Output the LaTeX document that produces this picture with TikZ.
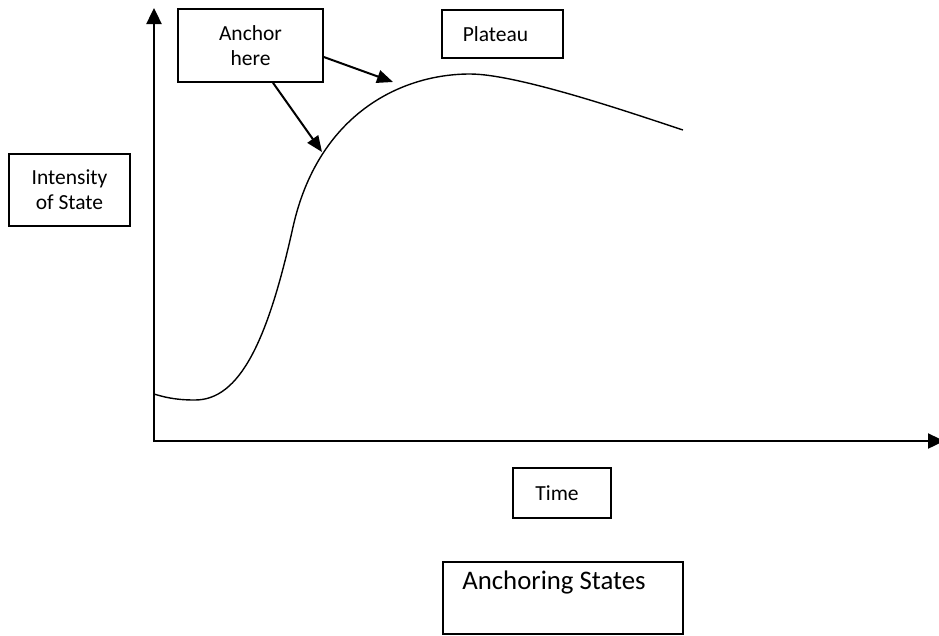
\documentclass[tikz,border=0pt]{standalone}
\usepackage{fontspec}
\setmainfont{Carlito}
\usetikzlibrary{arrows.meta,calc}
\begin{document}
\begin{tikzpicture}[x=1pt,y=-1pt,
  box/.style={draw,line width=1.6pt,inner sep=0pt,align=center,font=\fontsize{21.5}{25}\selectfont},
  axis/.style={line width=2.4pt,-{Triangle[length=16pt,width=15pt]}},
  pointer/.style={line width=2pt,-{Triangle[length=16pt,width=13pt]}},
  curve/.style={line width=1.4pt}]
\useasboundingbox (0,0) rectangle (939,635);
% axes
\coordinate (origin) at (154,441);
\coordinate (ytip) at (154,8);
\coordinate (xtip) at (944,441);
\draw[axis] ($(origin)+(0,1.2)$) -- (ytip);
\draw[axis] ($(origin)+(-1.2,0)$) -- (xtip);
% curve
\draw[curve] (154,394) .. controls (170,399) and (182,400) .. (195,400)
  .. controls (240,400) and (268,340) .. (293,227)
  .. controls (318,115) and (400,74) .. (470,74)
  .. controls (520,74) and (643,117) .. (683,130);
% boxes
\node[box,minimum width=145pt,minimum height=73pt] (anchor) at (250.5,45.5) {Anchor\\here};
\node[box,minimum width=121pt,minimum height=48pt] (plateau) at (502.5,34) {\hspace*{-14pt}Plateau};
\node[box,minimum width=121pt,minimum height=72pt] (intensity) at (69.5,190) {Intensity\\of State};
\node[box,minimum width=98pt,minimum height=50pt] (time) at (562,493) {\hspace*{-10pt}Time};
\node[draw,line width=1.6pt,minimum width=240pt,minimum height=72pt] (title) at (563,598) {};
\node[font=\fontsize{26.8}{30}\selectfont,inner sep=0pt] (titletext) at (554,582) {Anchoring States};
% pointers
\coordinate (tip1) at (393,82);
\coordinate (tip2) at (322,152);
\draw[pointer] ($(anchor.east)+(0,11.5)$) -- (tip1);
\draw[pointer] ($(anchor.south)+(22.5,0)$) -- (tip2);
\end{tikzpicture}
\end{document}
